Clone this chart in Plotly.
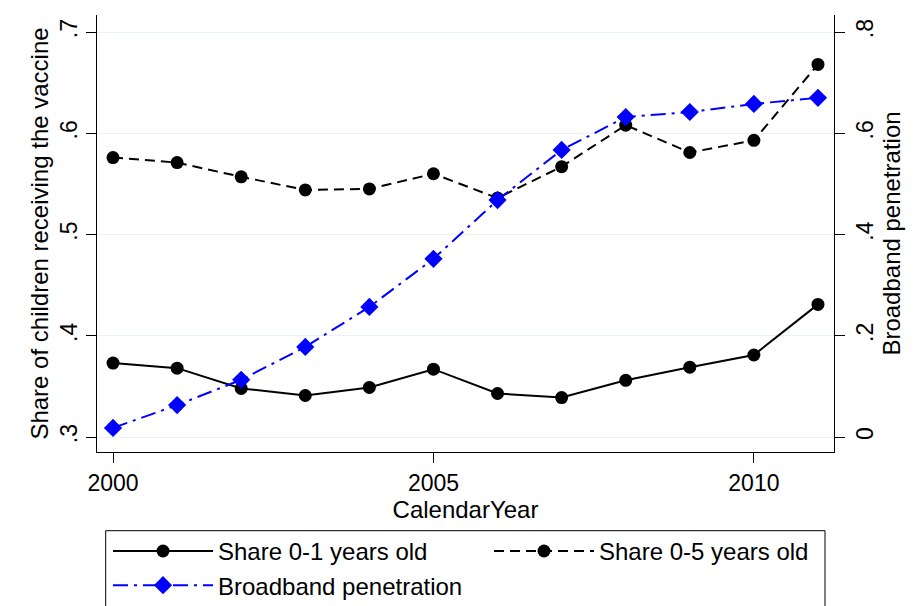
import plotly.graph_objects as go

# Vaccination shares and broadband penetration by calendar year
years = list(range(2000, 2012))
share_0_1 = [0.373, 0.368, 0.348, 0.341, 0.349, 0.367, 0.343, 0.339, 0.356, 0.369, 0.381, 0.431]
share_0_5 = [0.576, 0.571, 0.557, 0.544, 0.545, 0.560, 0.536, 0.567, 0.608, 0.581, 0.593, 0.668]
broadband = [0.018, 0.063, 0.113, 0.178, 0.257, 0.352, 0.468, 0.567, 0.632, 0.642, 0.658, 0.670]

left_ticks = [0.3, 0.4, 0.5, 0.6, 0.7]
left_labels = [".3", ".4", ".5", ".6", ".7"]
right_ticks = [0.0, 0.2, 0.4, 0.6, 0.8]
right_labels = ["0", ".2", ".4", ".6", ".8"]
year_ticks = [2000, 2005, 2010]

FONT = "Liberation Sans, Arial, sans-serif"
TICK_FS = 23
TITLE_FS = 24

fig = go.Figure()
fig.add_trace(go.Scatter(
    x=years, y=share_0_1, name="Share 0-1 years old", mode="lines+markers",
    line=dict(color="black", width=2),
    marker=dict(symbol="circle", size=13, color="black"),
    legend="legend",
))
fig.add_trace(go.Scatter(
    x=years, y=share_0_5, name="Share 0-5 years old", mode="lines+markers",
    line=dict(color="black", width=2, dash="10px,6px"),
    marker=dict(symbol="circle", size=13, color="black"),
    legend="legend2",
))
fig.add_trace(go.Scatter(
    x=years, y=broadband, name="Broadband penetration", mode="lines+markers",
    yaxis="y2",
    line=dict(color="#0000FF", width=2, dash="15px,6px,3px,6px"),
    marker=dict(symbol="diamond", size=14, color="#0000FF"),
    legend="legend",
))

axis_common = dict(
    showline=True, linecolor="black", linewidth=1,
    ticks="outside", ticklen=10, tickcolor="black", tickwidth=1,
    tickfont=dict(family=FONT, size=TICK_FS, color="black"),
    zeroline=False,
)

legend_common = dict(
    orientation="v", yanchor="top", xanchor="left", y=-0.176,
    bgcolor="rgba(0,0,0,0)", borderwidth=0,
    font=dict(family=FONT, size=TITLE_FS, color="black"),
    itemwidth=100, traceorder="normal",
)

fig.update_layout(
    width=916, height=606,
    margin=dict(l=97, r=82, t=15, b=154, autoexpand=False),
    paper_bgcolor="white", plot_bgcolor="white",
    font=dict(family=FONT, size=TITLE_FS, color="black"),
    xaxis=dict(
        range=[1999.75, 2011.25], tickvals=year_ticks,
        showgrid=False,
        title=dict(text="CalendarYear", font=dict(family=FONT, size=TITLE_FS), standoff=0),
        **axis_common,
    ),
    yaxis=dict(
        range=[0.2852, 0.7168], tickvals=left_ticks, ticktext=left_labels,
        tickangle=-90, showgrid=True, gridcolor="#EAF2F3", gridwidth=1,
        title=dict(text="Share of children receiving the vaccine",
                   font=dict(family=FONT, size=TITLE_FS), standoff=0),
        **axis_common,
    ),
    yaxis2=dict(
        overlaying="y", side="right",
        range=[-0.0296, 0.8336], tickvals=right_ticks, ticktext=right_labels,
        tickangle=-90, showgrid=False,
        title=dict(text="Broadband penetration",
                   font=dict(family=FONT, size=TITLE_FS), standoff=0),
        **axis_common,
    ),
    legend=dict(x=(108 - 97) / 737, **legend_common),
    legend2=dict(x=(489 - 97) / 737, **legend_common),
    showlegend=True,
)

# Frame around the two legend columns
fig.add_shape(
    type="rect", xref="paper", yref="paper",
    x0=(105.7 - 97) / 737, x1=(825 - 97) / 737,
    y0=(452 - 530.7) / 437, y1=(452 - 640) / 437,
    line=dict(color="black", width=1), fillcolor="rgba(0,0,0,0)",
)

fig.write_html("out.html")
